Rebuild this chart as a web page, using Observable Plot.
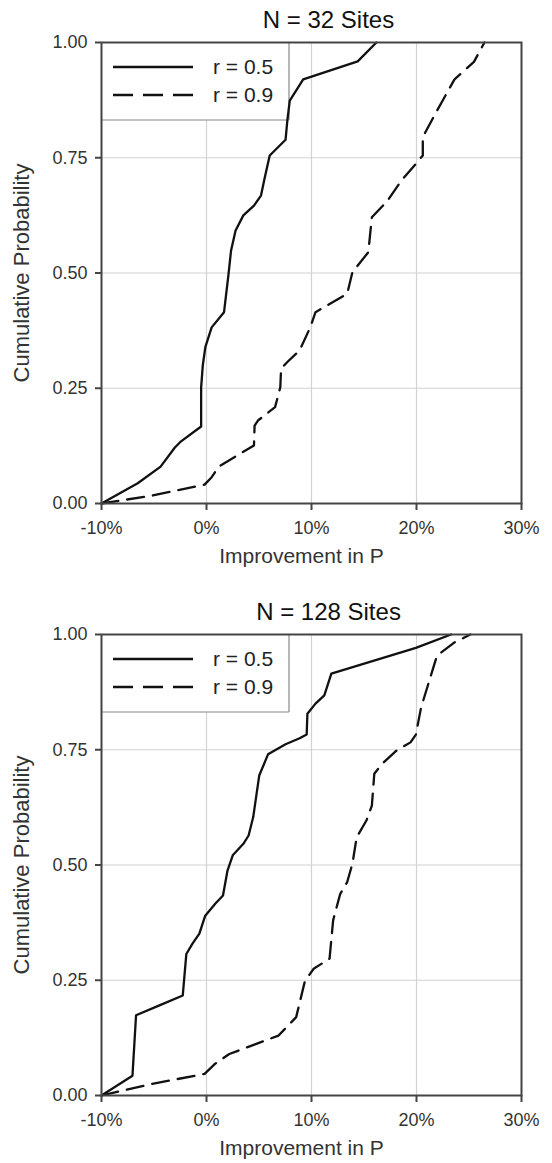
<!DOCTYPE html>
<html><head><meta charset="utf-8">
<script src="https://cdn.jsdelivr.net/npm/d3@7"></script>
<script src="https://cdn.jsdelivr.net/npm/@observablehq/plot@0.6"></script>
<style>
body{margin:0;background:#fff;font-family:"Liberation Sans",Arial,sans-serif}
svg{display:block}
</style>
</head><body><div id="chart"></div>
<script>
// ---- data (improvement in P, %; cumulative probability) ----
const xTicks = [-10, 0, 10, 20, 30];
const yTicks = [0, 0.25, 0.5, 0.75, 1];
const seriesNames = ["r = 0.5", "r = 0.9"];
const panelTitles = ["N = 32 Sites", "N = 128 Sites"];

const n32_r05_x = [-10, -6.55, -4.37, -3.03, -2.52, -0.51, -0.51, -0.35, -0.11, 0.49, 1.67, 2.10, 2.34, 2.77, 3.51, 4.52, 5.19, 5.52, 6.02, 7.53, 7.70, 7.93, 9.21, 14.40, 16.18];
const n32_r05_p = [0, 0.044, 0.080, 0.121, 0.133, 0.167, 0.252, 0.300, 0.339, 0.382, 0.415, 0.498, 0.549, 0.592, 0.625, 0.646, 0.668, 0.704, 0.755, 0.789, 0.831, 0.874, 0.920, 0.959, 1.0];

const n32_r09_x = [-10, -5.2, -0.18, 0.49, 1.16, 4.52, 4.58, 4.9, 6.53, 7.03, 7.10, 7.70, 8.87, 9.88, 10.38, 13.40, 13.90, 15.41, 15.75, 17.25, 18.58, 19.94, 20.6, 20.6, 21.95, 23.62, 25.47, 26.47];
const n32_r09_p = [0, 0.017, 0.041, 0.057, 0.080, 0.126, 0.169, 0.180, 0.209, 0.252, 0.292, 0.307, 0.332, 0.382, 0.415, 0.455, 0.502, 0.545, 0.621, 0.657, 0.701, 0.737, 0.755, 0.795, 0.852, 0.920, 0.958, 1.0];

const n128_r05_x = [-10, -7.05, -6.71, -4.54, -2.26, -1.92, -1.35, -0.68, -0.12, 0.83, 1.57, 2.0, 2.50, 3.51, 4.01, 4.45, 5.02, 5.86, 7.53, 8.87, 9.54, 9.61, 10.38, 11.22, 11.89, 19.94, 23.29];
const n128_r05_p = [0, 0.043, 0.174, 0.195, 0.217, 0.307, 0.329, 0.351, 0.390, 0.416, 0.434, 0.488, 0.521, 0.546, 0.564, 0.604, 0.694, 0.740, 0.762, 0.775, 0.783, 0.828, 0.850, 0.868, 0.915, 0.971, 1.0];

const n128_r09_x = [-10, -5.21, -0.18, 0.83, 2.17, 6.86, 8.54, 9.38, 10.21, 11.72, 12.06, 12.39, 12.73, 13.40, 13.90, 14.30, 15.24, 15.75, 15.98, 16.75, 18.09, 19.43, 19.94, 20.44, 21.95, 23.62, 25.13];
const n128_r09_p = [0, 0.025, 0.047, 0.069, 0.090, 0.130, 0.170, 0.249, 0.275, 0.297, 0.380, 0.408, 0.437, 0.463, 0.503, 0.560, 0.597, 0.629, 0.698, 0.720, 0.748, 0.766, 0.783, 0.842, 0.954, 0.983, 1.0];

// ---- build ----
const DASH = "17,9";
const INK = "#111";
const AXIS = "#444";
const FONT = "'Liberation Sans', Arial, sans-serif";

function toRows(xs, ps) { return xs.map((x, i) => ({x, p: ps[i]})); }

function panel(title, r05, r09, height, marginBottom) {
  const svg = Plot.plot({
    width: 552,
    height,
    marginTop: 42,
    marginBottom,
    marginLeft: 101,
    marginRight: 31,
    style: {fontFamily: FONT, background: "#fff", color: "#333"},
    x: {domain: [-10, 30]},
    y: {domain: [0, 1]},
    marks: [
      Plot.gridX(xTicks, {stroke: "#d2d2d2", strokeOpacity: 1, strokeWidth: 1.2}),
      Plot.gridY(yTicks, {stroke: "#d2d2d2", strokeOpacity: 1, strokeWidth: 1.2}),
      Plot.line(r05, {x: "x", y: "p", stroke: INK, strokeWidth: 2.3}),
      Plot.line(r09, {x: "x", y: "p", stroke: INK, strokeWidth: 2.3, strokeDasharray: DASH}),
      Plot.axisX(xTicks, {tickSize: 7, tickPadding: 11, stroke: AXIS, strokeWidth: 2, fontSize: 18, fill: "#333", label: null, tickFormat: d => d + "%"}),
      Plot.axisY(yTicks, {tickSize: 6, tickPadding: 8, stroke: AXIS, strokeWidth: 2, fontSize: 18, fill: "#333", label: null, tickFormat: d3.format(".2f")}),
      Plot.text([title], {frameAnchor: "top", dy: -22, dx: 17, text: d => d, fontSize: 24, fill: "#111", textAnchor: "middle", lineAnchor: "middle"}),
      Plot.text(["Improvement in P"], {frameAnchor: "bottom", dy: 53, dx: -10, text: d => d, fontSize: 21, fill: "#333", textAnchor: "middle", lineAnchor: "middle"}),
      Plot.text(["Cumulative Probability"], {frameAnchor: "left", dx: -80, rotate: -90, text: d => d, fontSize: 22, fill: "#333", textAnchor: "middle"}),
      Plot.frame({stroke: AXIS, strokeWidth: 2})
    ]
  });
  // legend box (layout element, drawn above grid, below the curves)
  const ml = 101, mt = 42, lw = 188, lh = 78;
  const firstLine = svg.querySelector('[aria-label="line"]');
  const g = document.createElementNS("http://www.w3.org/2000/svg", "g");
  svg.insertBefore(g, firstLine);
  const lg = d3.select(g).attr("transform", `translate(${ml},${mt})`);
  lg.append("rect").attr("width", lw).attr("height", lh).attr("fill", "#fff");
  lg.append("line").attr("x1", lw).attr("x2", lw).attr("y1", 0).attr("y2", lh).attr("stroke", "#888").attr("stroke-width", 1.2);
  lg.append("line").attr("x1", 0).attr("x2", lw).attr("y1", lh).attr("y2", lh).attr("stroke", "#888").attr("stroke-width", 1.2);
  seriesNames.forEach((name, i) => {
    const y = 25 + i * 28;
    lg.append("line").attr("x1", 12).attr("x2", 92).attr("y1", y).attr("y2", y)
      .attr("stroke", INK).attr("stroke-width", 2.3)
      .attr("stroke-dasharray", i === 1 ? "20,10" : null);
    lg.append("text").attr("x", 112).attr("y", y).attr("dy", "0.35em")
      .attr("text-anchor", "start")
      .attr("font-size", 21).attr("fill", "#222").attr("font-family", FONT).text(name);
  });
  return svg;
}

const root = document.getElementById("chart");
root.appendChild(panel(panelTitles[0], toRows(n32_r05_x, n32_r05_p), toRows(n32_r09_x, n32_r09_p), 592, 89));
root.appendChild(panel(panelTitles[1], toRows(n128_r05_x, n128_r05_p), toRows(n128_r09_x, n128_r09_p), 571, 68));
</script></body></html>
